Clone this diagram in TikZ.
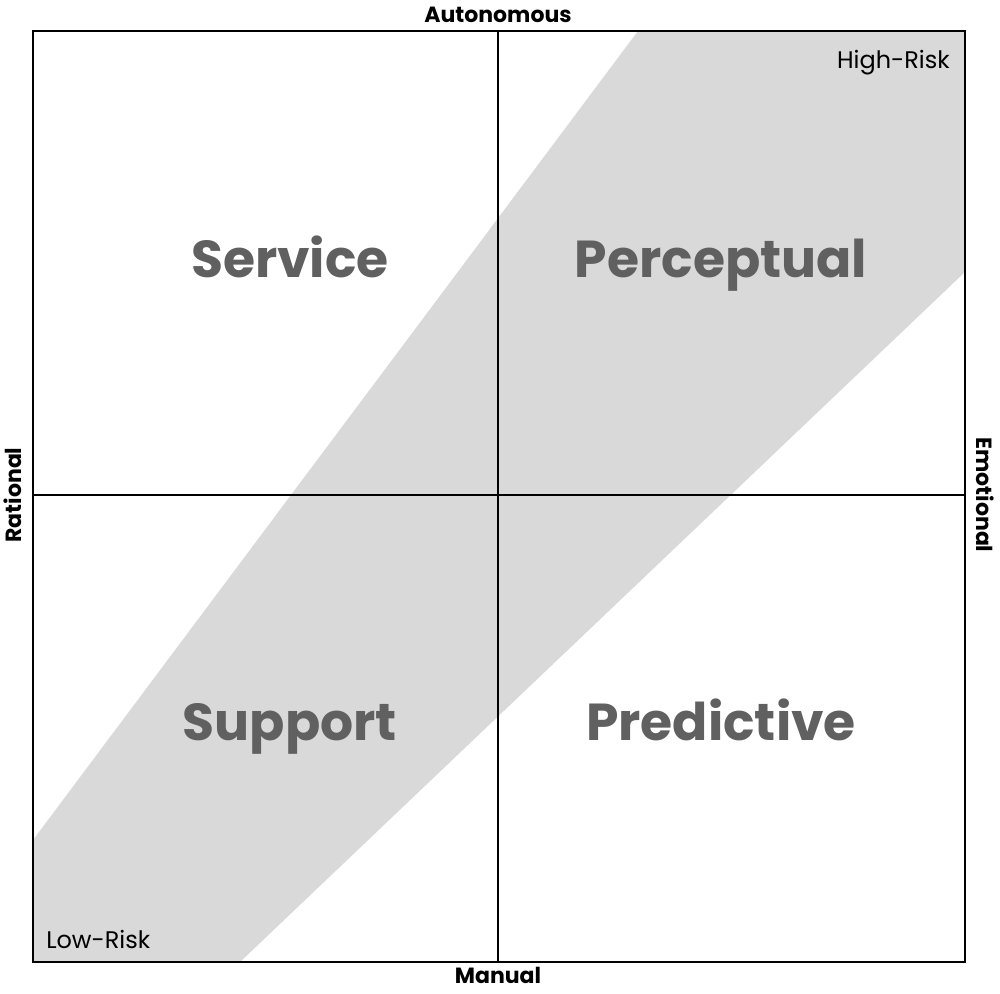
\documentclass[tikz,border=0pt]{standalone}
\usepackage{fontspec}
\setmainfont{Poppins}
\usetikzlibrary{positioning}
\definecolor{bandgray}{HTML}{D9D9D9}
\definecolor{labelgray}{HTML}{606060}

\begin{document}
\begin{tikzpicture}[
  x=0.75pt, y=-0.75pt,
  quadrant/.style={font=\fontsize{39}{39}\selectfont\bfseries, text=labelgray, anchor=base},
  axis/.style={font=\fontsize{16.5}{16.5}\selectfont\bfseries, inner sep=0pt},
  risk/.style={font=\fontsize{18}{18}\selectfont, inner sep=0pt, anchor=base},
  frame/.style={line width=2pt},
  divider/.style={line width=1.3pt}
]
  \useasboundingbox (0,0) rectangle (1000,993);
  \coordinate (nw) at (33,31);
  \coordinate (se) at (965,962);
  \coordinate (top) at (498,31);
  \coordinate (bottom) at (498,962);
  \coordinate (left) at (33,495);
  \coordinate (right) at (965,495);

  % risk band
  \fill[bandgray] (33,840) -- (638,31) -- (965,31) -- (965,272) -- (240,962) -- (33,962) -- cycle;

  \draw[frame] (nw) rectangle (se);
  \draw[divider] (top) -- (bottom);
  \draw[divider] (left) -- (right);

  \node[quadrant] (service) at (290,277) {Service};
  \node[quadrant] (perceptual) at (721,277) {Perceptual};
  \node[quadrant] (support) at (290,740) {Support};
  \node[quadrant] (predictive) at (721,740) {Predictive};

  \node[axis, above=6pt of top] (autonomous) {Autonomous};
  \node[axis, below=4pt of bottom] (manual) {Manual};
  \node[axis, rotate=90, left=8pt of left, anchor=south] (rational) {Rational};
  \node[axis, rotate=-90, right=8pt of right, anchor=south] (emotional) {Emotional};

  \node[risk, anchor=base east] (highrisk) at (950,68) {High-Risk};
  \node[risk, anchor=base west] (lowrisk) at (46,948) {Low-Risk};
\end{tikzpicture}
\end{document}
